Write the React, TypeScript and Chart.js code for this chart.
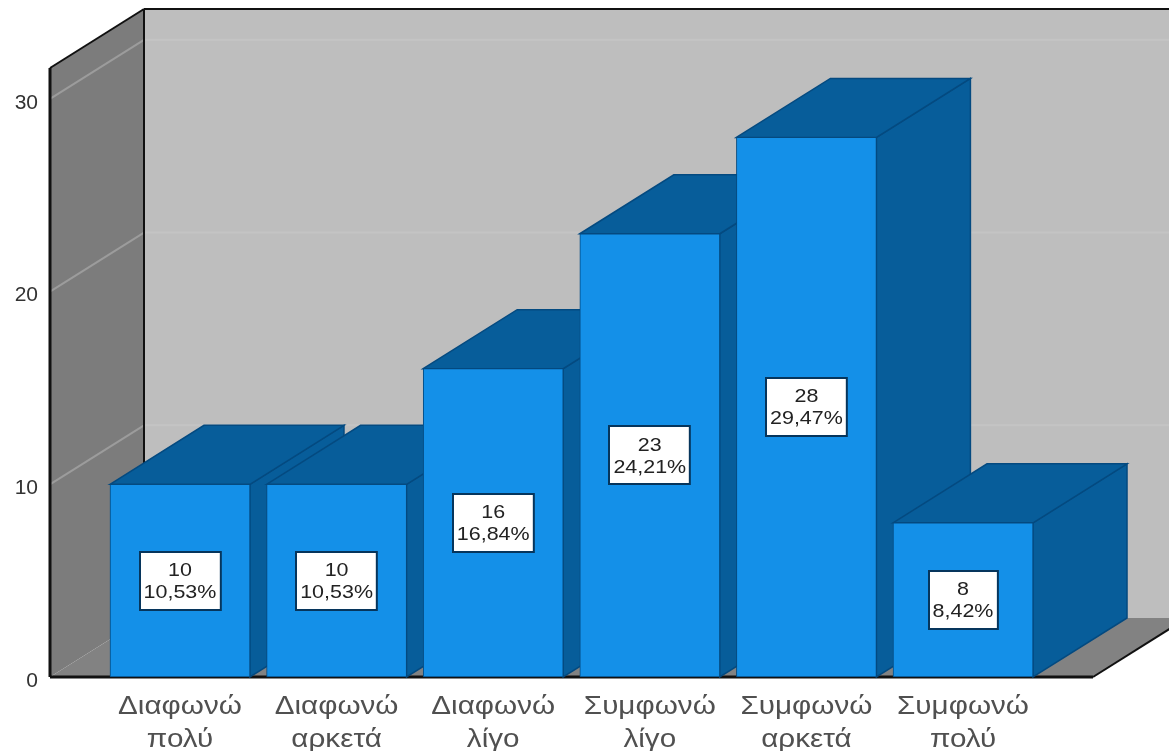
import React, { useEffect, useRef } from "react";
import { Chart, registerables } from "chart.js";

Chart.register(...registerables);

const categories = [
  ["Διαφωνώ", "πολύ"],
  ["Διαφωνώ", "αρκετά"],
  ["Διαφωνώ", "λίγο"],
  ["Συμφωνώ", "λίγο"],
  ["Συμφωνώ", "αρκετά"],
  ["Συμφωνώ", "πολύ"],
];
const counts = [10, 10, 16, 23, 28, 8];
const percents = ["10,53%", "10,53%", "16,84%", "24,21%", "29,47%", "8,42%"];
const yTicks = [0, 10, 20, 30];

const DX = 94;
const DY = 59;
const FONT = '"Liberation Sans", Arial, sans-serif';

function poly(ctx: CanvasRenderingContext2D, pts: number[][], fill: string, stroke?: string, lw = 1) {
  ctx.beginPath();
  pts.forEach((p, i) => (i ? ctx.lineTo(p[0], p[1]) : ctx.moveTo(p[0], p[1])));
  ctx.closePath();
  ctx.fillStyle = fill;
  ctx.fill();
  if (stroke) {
    ctx.strokeStyle = stroke;
    ctx.lineWidth = lw;
    ctx.stroke();
  }
}

function line(ctx: CanvasRenderingContext2D, x1: number, y1: number, x2: number, y2: number, color: string, lw: number) {
  ctx.beginPath();
  ctx.moveTo(x1, y1);
  ctx.lineTo(x2, y2);
  ctx.strokeStyle = color;
  ctx.lineWidth = lw;
  ctx.stroke();
}

// Tick labels of the reference are horizontally stretched: wrap the scale's own label drawing.
function stretchLabels(scale: any, sx: number, dy: number) {
  if (scale.__patched) return;
  scale.__patched = true;
  const orig = scale.drawLabels;
  scale.drawLabels = function (area: any) {
    const ctx = this.ctx;
    const fill = ctx.fillText;
    ctx.save();
    ctx.translate(0, dy);
    ctx.fillText = function (t: string, x: number, y: number) {
      this.save();
      this.translate(x, y);
      this.scale(sx, 1);
      fill.call(this, t, 0, 0);
      this.restore();
    };
    orig.call(this, area);
    delete ctx.fillText;
    ctx.restore();
  };
}

const box3d = {
  id: "box3d",
  beforeDatasetsDraw(chart: any) {
    const { ctx, chartArea: a, scales } = chart;
    const { left: l, right: r, top: t, bottom: b } = a;
    const W = chart.width;
    ctx.save();
    // back wall
    poly(ctx, [[l + DX, t - DY], [r + DX, t - DY], [r + DX, b - DY], [l + DX, b - DY]], "#bebebe");
    // side wall
    poly(ctx, [[l, t], [l + DX, t - DY], [l + DX, b - DY], [l, b]], "#7c7c7c");
    // floor
    poly(ctx, [[l, b], [l + DX, b - DY], [r + DX, b - DY], [r, b]], "#828282");
    // wall grid lines
    yTicks.slice(1).forEach((v) => {
      const y = scales.y.getPixelForValue(v);
      line(ctx, l + DX, y - DY, W, y - DY, "#c4c4c4", 2);
      line(ctx, l, y, l + DX, y - DY, "#9c9c9c", 2);
    });
    // frame
    line(ctx, l, b, l, t, "#111111", 3);
    line(ctx, l, t, l + DX, t - DY, "#111111", 2);
    line(ctx, l + DX, t - DY, W, t - DY, "#111111", 2);
    line(ctx, l + DX, t - DY, l + DX, b - DY, "#111111", 2);
    line(ctx, r, b, r + DX, b - DY, "#111111", 2);
    line(ctx, l, b, r, b, "#111111", 3);
    // bar extrusions, left to right
    const stroke = "#044a80";
    chart.getDatasetMeta(0).data.forEach((el: any) => {
      const { x, y, base, width } = el.getProps(["x", "y", "base", "width"], true);
      const L = x - width / 2;
      const R = x + width / 2;
      poly(ctx, [[R, y], [R + DX, y - DY], [R + DX, base - DY], [R, base]], "#075d9a", stroke, 1.5);
      poly(ctx, [[L, y], [L + DX, y - DY], [R + DX, y - DY], [R, y]], "#075d9a", stroke, 1.5);
    });
    ctx.restore();
  },
  afterDatasetsDraw(chart: any) {
    const { ctx } = chart;
    const sx = 1.13;
    ctx.save();
    chart.getDatasetMeta(0).data.forEach((el: any, i: number) => {
      const { x, y, base } = el.getProps(["x", "y", "base"], true);
      const cy = (y + base) / 2;
      ctx.font = `19px ${FONT}`;
      const w = ctx.measureText(percents[i]).width * sx + 8;
      const bx = Math.round(x - w / 2);
      const by = Math.round(cy - 29);
      ctx.fillStyle = "#ffffff";
      ctx.strokeStyle = "#06355c";
      ctx.lineWidth = 2;
      ctx.fillRect(bx, by, w, 58);
      ctx.strokeRect(bx, by, w, 58);
      ctx.fillStyle = "#222222";
      ctx.textAlign = "center";
      ctx.textBaseline = "middle";
      [[String(counts[i]), cy - 10], [percents[i], cy + 12]].forEach(([t, ty]: any) => {
        ctx.save();
        ctx.translate(x, ty);
        ctx.scale(sx, 1);
        ctx.fillText(t, 0, 0);
        ctx.restore();
      });
    });
    ctx.restore();
  },
};

export default function App() {
  const ref = useRef<HTMLCanvasElement>(null);
  useEffect(() => {
    const chart = new Chart(ref.current!, {
      type: "bar",
      plugins: [box3d as any],
      data: {
        datasets: [
          {
            data: counts.map((v, i) => ({ x: i, y: v })),
            backgroundColor: "#1490e8",
            borderColor: "#044a80",
            borderWidth: 1,
            borderSkipped: false,
            barThickness: 140,
          },
        ],
      },
      options: {
        animation: false,
        responsive: false,
        events: [],
        layout: { autoPadding: false, padding: { top: 68, right: 76, left: 0, bottom: 0 } },
        plugins: { legend: { display: false }, title: { display: false }, tooltip: { enabled: false } },
        scales: {
          x: {
            type: "linear",
            offset: false,
            min: -0.83,
            max: 5.83,
            grid: { display: false },
            border: { display: false },
            afterFit: (s: any) => { s.height = 74; stretchLabels(s, 1.14, 0); },
            afterBuildTicks: (s: any) => { s.ticks = categories.map((_, i) => ({ value: i })); },
            ticks: {
              autoSkip: false,
              maxRotation: 0,
              minRotation: 0,
              padding: 5,
              color: "#505050",
              font: { family: FONT, size: 26, lineHeight: 1.27 },
              callback: (v: any) => categories[v],
            },
          },
          y: {
            min: 0,
            max: 31.6,
            grid: { display: false },
            border: { display: false },
            afterFit: (s: any) => { s.width = 50; stretchLabels(s, 1, 4); },
            afterBuildTicks: (s: any) => { s.ticks = yTicks.map((value) => ({ value })); },
            ticks: {
              padding: 4,
              color: "#333333",
              font: { family: FONT, size: 21 },
            },
          },
        },
      } as any,
    });
    return () => chart.destroy();
  }, []);
  return (
    <div style={{ position: "fixed", left: 0, top: 0 }}>
      <canvas ref={ref} width={1169} height={751} style={{ display: "block", background: "#ffffff" }} />
    </div>
  );
}
